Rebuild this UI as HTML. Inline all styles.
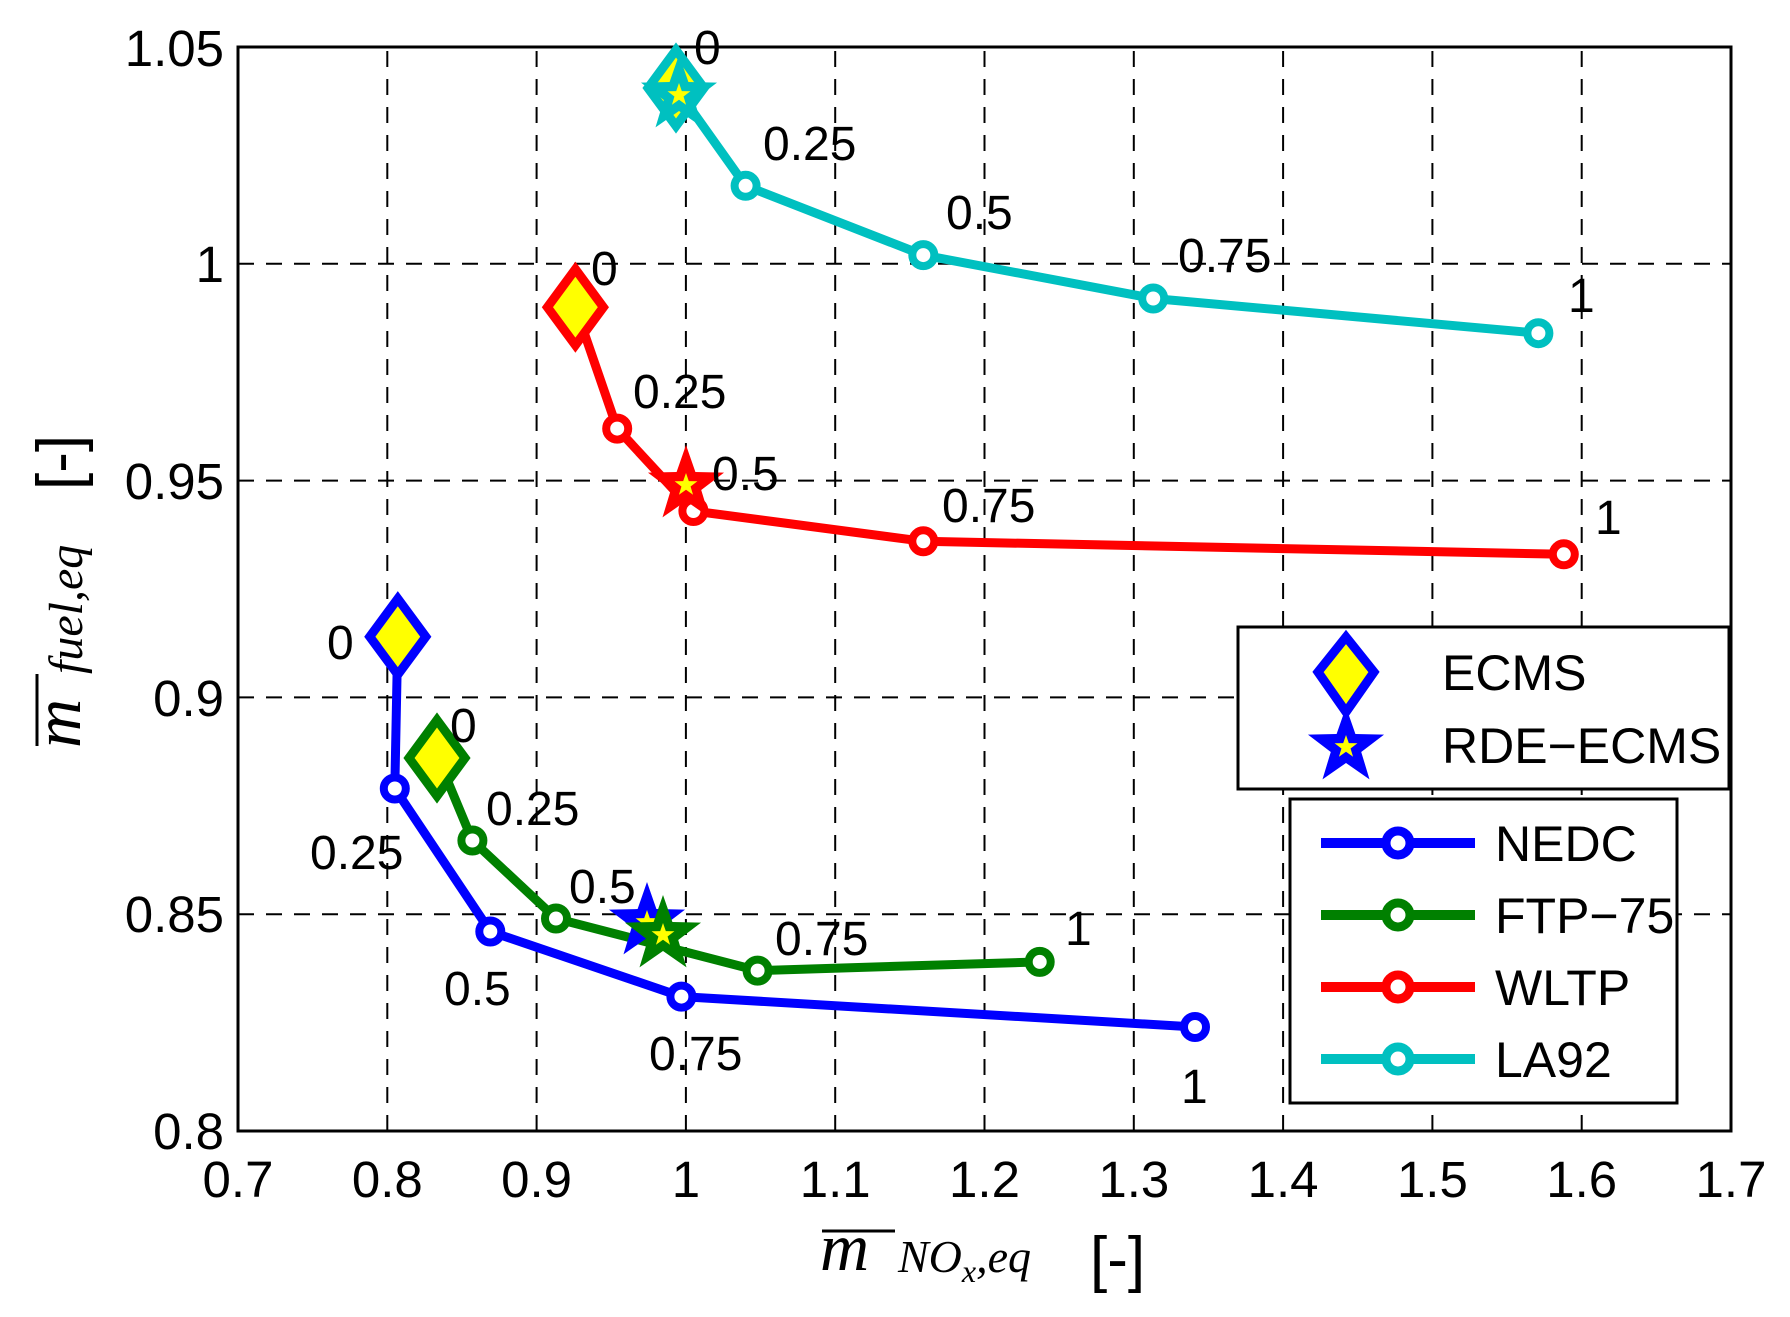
<!DOCTYPE html>
<html><head><meta charset="utf-8"><style>
html,body{margin:0;padding:0;background:#fff;}
svg{display:block;}
.t{font-family:"Liberation Sans",sans-serif;font-size:48px;fill:#000;}
.k{font-family:"Liberation Sans",sans-serif;font-size:51px;fill:#000;}
</style></head><body>
<svg width="1790" height="1317" viewBox="0 0 1790 1317" xmlns="http://www.w3.org/2000/svg">
<defs>
<path id="st" d="M0,-40 L9.4,-12.94 L38.04,-12.36 L15.22,4.94 L23.51,32.36 L0,16 L-23.51,32.36 L-15.22,4.94 L-38.04,-12.36 L-9.4,-12.94 Z"/>
<path id="dm" d="M0,-38 L28,0 L0,38 L-28,0 Z"/>
</defs>
<g stroke="#000" stroke-width="2" stroke-dasharray="16,12" fill="none">
<line x1="387.3" y1="1131" x2="387.3" y2="47"/>
<line x1="536.6" y1="1131" x2="536.6" y2="47"/>
<line x1="685.9" y1="1131" x2="685.9" y2="47"/>
<line x1="835.2" y1="1131" x2="835.2" y2="47"/>
<line x1="984.5" y1="1131" x2="984.5" y2="47"/>
<line x1="1133.8" y1="1131" x2="1133.8" y2="47"/>
<line x1="1283.1" y1="1131" x2="1283.1" y2="47"/>
<line x1="1432.4" y1="1131" x2="1432.4" y2="47"/>
<line x1="1581.7" y1="1131" x2="1581.7" y2="47"/>
<line x1="238" y1="914.2" x2="1731" y2="914.2"/>
<line x1="238" y1="697.4" x2="1731" y2="697.4"/>
<line x1="238" y1="480.6" x2="1731" y2="480.6"/>
<line x1="238" y1="263.8" x2="1731" y2="263.8"/>
</g>
<rect x="238" y="47" width="1493" height="1084" fill="none" stroke="#000" stroke-width="3"/>
<g class="k" text-anchor="middle">
<text x="238" y="1197">0.7</text><text x="387.3" y="1197">0.8</text><text x="536.6" y="1197">0.9</text>
<text x="685.9" y="1197">1</text><text x="835.2" y="1197">1.1</text><text x="984.5" y="1197">1.2</text>
<text x="1133.8" y="1197">1.3</text><text x="1283.1" y="1197">1.4</text><text x="1432.4" y="1197">1.5</text>
<text x="1581.7" y="1197">1.6</text><text x="1731" y="1197">1.7</text>
</g>
<g class="k" text-anchor="end">
<text x="224" y="1149">0.8</text><text x="224" y="932">0.85</text><text x="224" y="716">0.9</text>
<text x="224" y="499">0.95</text><text x="224" y="282">1</text><text x="224" y="66">1.05</text>
</g>
<line x1="822" y1="1231" x2="895" y2="1231" stroke="#000" stroke-width="3"/>
<text x="820" y="1270" font-family="Liberation Serif,serif" font-style="italic" font-size="68">m</text>
<text x="898" y="1272" font-family="Liberation Serif,serif" font-style="italic" font-size="46">NO<tspan font-size="32" dy="10">x</tspan><tspan dy="-10">,eq</tspan></text>
<text x="1090" y="1280" font-family="Liberation Sans,sans-serif" font-size="62">[-]</text>
<g transform="translate(80,748) rotate(-90)">
<line x1="2" y1="-43" x2="74" y2="-43" stroke="#000" stroke-width="3"/>
<text x="0" y="0" font-family="Liberation Serif,serif" font-style="italic" font-size="68">m</text>
<text x="74" y="2" font-family="Liberation Serif,serif" font-style="italic" font-size="48">fuel,eq</text>
<text x="258" y="0" font-family="Liberation Sans,sans-serif" font-size="62">[-]</text>
</g>
<g fill="none" stroke-width="9" stroke-linejoin="round">
<polyline stroke="#00c0c0" points="676,88 745.6,185.8 923.3,255.1 1153.2,298.5 1538.4,333.2"/>
<polyline stroke="#ff0000" points="575.4,307.2 617.2,428.6 693.4,511 923.3,541.3 1563.8,554.3"/>
<polyline stroke="#0000ff" points="397.8,636.7 394.8,788.5 490.3,931.5 681.4,996.6 1195,1027"/>
<polyline stroke="#008000" points="438.1,758.1 472.4,840.5 556,918.5 757.6,970.6 1039.7,961.9"/>
</g>
<g fill="#fff" stroke-width="8">
<g stroke="#00c0c0"><circle cx="745.6" cy="185.8" r="11"/><circle cx="923.3" cy="255.1" r="11"/><circle cx="1153.2" cy="298.5" r="11"/><circle cx="1538.4" cy="333.2" r="11"/></g>
<g stroke="#ff0000"><circle cx="617.2" cy="428.6" r="11"/><circle cx="693.4" cy="511" r="11"/><circle cx="923.3" cy="541.3" r="11"/><circle cx="1563.8" cy="554.3" r="11"/></g>
<g stroke="#0000ff"><circle cx="394.8" cy="788.5" r="11"/><circle cx="490.3" cy="931.5" r="11"/><circle cx="681.4" cy="996.6" r="11"/><circle cx="1195" cy="1027" r="11"/></g>
<g stroke="#008000"><circle cx="472.4" cy="840.5" r="11"/><circle cx="556" cy="918.5" r="11"/><circle cx="757.6" cy="970.6" r="11"/><circle cx="1039.7" cy="961.9" r="11"/></g>
</g>
<g fill="#ffff00" stroke-width="9">
<use href="#dm" x="676" y="88" stroke="#00c0c0"/>
<use href="#dm" x="575.4" y="307.2" stroke="#ff0000"/>
<use href="#dm" x="397.8" y="636.7" stroke="#0000ff"/>
<use href="#dm" x="437" y="758" stroke="#008000"/>
</g>
<use href="#st" x="679" y="95" fill="#00c0c0"/>
<g transform="translate(679,95) scale(0.3)"><use href="#st" fill="#ffff00"/></g>
<use href="#st" x="686" y="485" fill="#ff0000"/>
<g transform="translate(686,485) scale(0.3)"><use href="#st" fill="#ffff00"/></g>
<use href="#st" x="647" y="922" fill="#0000ff"/>
<g transform="translate(647,922) scale(0.3)"><use href="#st" fill="#ffff00"/></g>
<use href="#st" x="663" y="935" fill="#008000"/>
<g transform="translate(663,935) scale(0.3)"><use href="#st" fill="#ffff00"/></g>
<g class="t">
<text x="694" y="64">0</text><text x="763" y="160">0.25</text><text x="946" y="229">0.5</text><text x="1178" y="272">0.75</text><text x="1568" y="312">1</text>
<text x="591" y="285">0</text><text x="633" y="408">0.25</text><text x="712" y="490">0.5</text><text x="942" y="522">0.75</text><text x="1595" y="534">1</text>
<text x="327" y="659">0</text><text x="310" y="869">0.25</text><text x="444" y="1005">0.5</text><text x="649" y="1070">0.75</text><text x="1181" y="1103">1</text>
<text x="450" y="742">0</text><text x="486" y="825">0.25</text><text x="569" y="903">0.5</text><text x="775" y="955">0.75</text><text x="1065" y="945">1</text>
</g>
<rect x="1238" y="627" width="491" height="162" fill="#fff" stroke="#000" stroke-width="3"/>
<path d="M1346,637 L1374,672 L1346,712 L1318,672 Z" fill="#ffff00" stroke="#0000ff" stroke-width="9"/>
<use href="#st" x="1346" y="747" fill="#0000ff"/>
<g transform="translate(1346,747) scale(0.3)"><use href="#st" fill="#ffff00"/></g>
<text x="1442" y="690" class="t" style="font-size:50px">ECMS</text>
<text x="1442" y="763" class="t" style="font-size:50px">RDE−ECMS</text>
<rect x="1290" y="799" width="387" height="304" fill="#fff" stroke="#000" stroke-width="3"/>
<g stroke-width="10" fill="#fff">
<line x1="1321" y1="843" x2="1475" y2="843" stroke="#0000ff"/><circle cx="1398" cy="843" r="12" stroke="#0000ff" stroke-width="9"/>
<line x1="1321" y1="915" x2="1475" y2="915" stroke="#008000"/><circle cx="1398" cy="915" r="12" stroke="#008000" stroke-width="9"/>
<line x1="1321" y1="987" x2="1475" y2="987" stroke="#ff0000"/><circle cx="1398" cy="987" r="12" stroke="#ff0000" stroke-width="9"/>
<line x1="1321" y1="1059" x2="1475" y2="1059" stroke="#00c0c0"/><circle cx="1398" cy="1059" r="12" stroke="#00c0c0" stroke-width="9"/>
</g>
<g class="t" style="font-size:50px">
<text x="1495" y="861">NEDC</text><text x="1495" y="933">FTP−75</text><text x="1495" y="1005">WLTP</text><text x="1495" y="1077">LA92</text>
</g>
</svg>
</body></html>
